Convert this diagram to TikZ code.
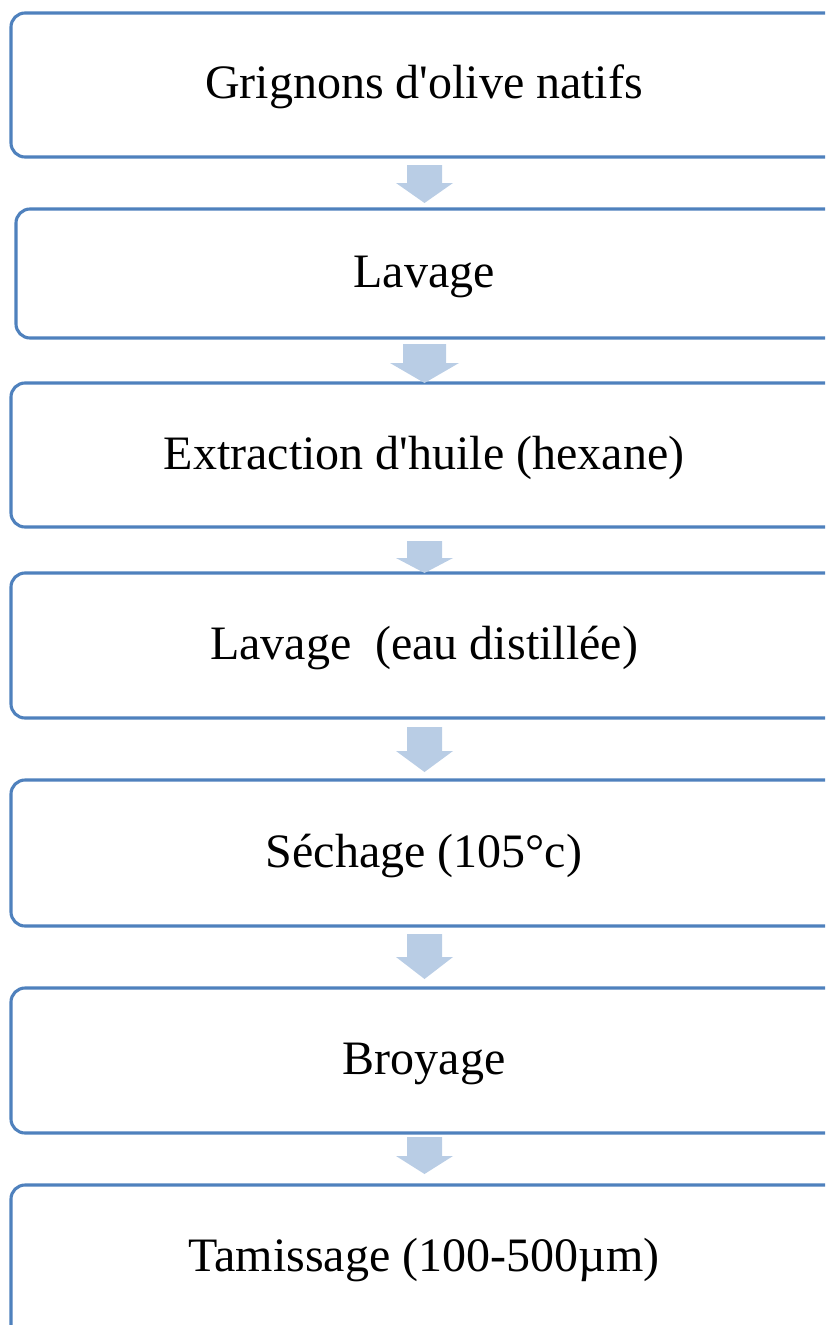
\documentclass[tikz,border=0pt]{standalone}
\usepackage{fontspec}
\setmainfont{Liberation Serif}[Ligatures=TeXOff]
\begin{document}
\begin{tikzpicture}[x=1pt,y=-1pt,
  stepbox/.style={draw=boxblue,line width=3.1pt,rounded corners=14pt,fill=white},
  steptext/.style={anchor=base,inner sep=0pt,font=\fontsize{48}{58}\selectfont},
  flow/.style={fill=arrowblue,draw=none}]
\definecolor{boxblue}{RGB}{79,129,189}
\definecolor{arrowblue}{RGB}{185,205,229}
\useasboundingbox (0,0) rectangle (825,1325);
\clip (0,0) rectangle (825,1325);
% block arrow: {x centre}{top}{head base}{tip}{shaft half width}{head half width}
\newcommand\flowarrow[6]{%
  \fill[flow] (#1-#5,#2) -- (#1+#5,#2) -- (#1+#5,#3) -- (#1+#6,#3)
    -- (#1,#4) -- (#1-#6,#3) -- (#1-#5,#3) -- cycle;}
% process steps
\draw[stepbox] (11,13)   rectangle (860,157);
\draw[stepbox] (16,209)  rectangle (860,338);
\draw[stepbox] (11,383)  rectangle (860,527);
\draw[stepbox] (11,573)  rectangle (860,718);
\draw[stepbox] (11,780)  rectangle (860,926);
\draw[stepbox] (11,988)  rectangle (860,1133);
\draw[stepbox] (11,1185) rectangle (860,1360);
% arrows between the steps
\flowarrow{424.5}{165}{183}{203}{17.5}{28.5}
\flowarrow{424.5}{344}{363}{383}{21.5}{34.5}
\flowarrow{424.5}{541}{558}{573}{17.5}{28.5}
\flowarrow{424.5}{727}{751}{772}{17.5}{28.5}
\flowarrow{424.5}{934}{957}{979}{17.5}{28.5}
\flowarrow{424.5}{1137}{1156}{1174}{17.5}{28.5}
% labels
\node[steptext] (t1) at (424,98)   {Grignons d'olive natifs};
\node[steptext] (t2) at (424,287)  {Lavage};
\node[steptext] (t3) at (424,469)  {Extraction d'huile (hexane)};
\node[steptext] (t4) at (424,659)  {Lavage\ \ (eau distillée)};
\node[steptext] (t5) at (424,867)  {Séchage (105°c)};
\node[steptext] (t6) at (424,1074) {Broyage};
\node[steptext] (t7) at (424,1271) {Tamissage (100-500µm)};
\end{tikzpicture}
\end{document}
